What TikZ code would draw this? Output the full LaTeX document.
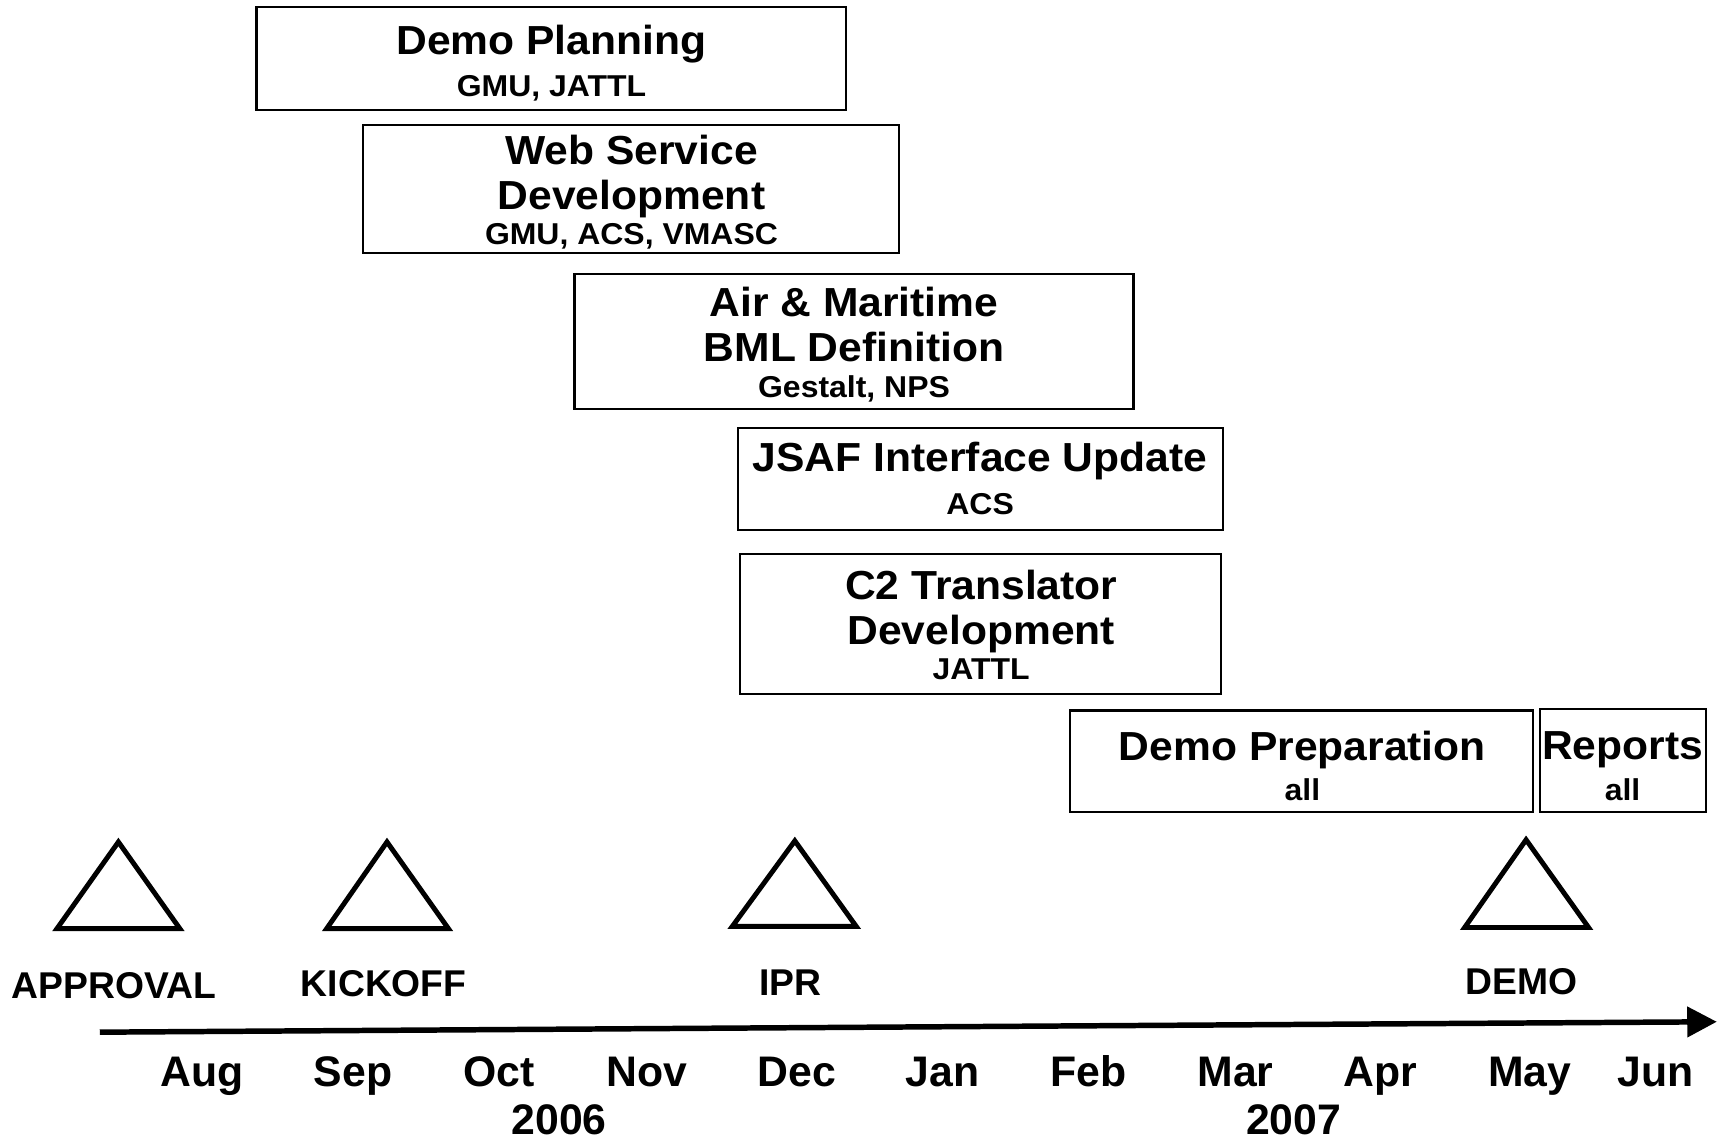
\documentclass[tikz,border=0pt]{standalone}
\usepackage{fontspec}
\setmainfont{Liberation Sans}
\usetikzlibrary{arrows.meta}
\tikzset{
  box/.style={draw, line width=2pt, rectangle, inner sep=0pt},
  big/.style={font=\fontsize{37}{40}\selectfont\bfseries, inner sep=0pt, anchor=base, xscale=1.05},
  small/.style={font=\fontsize{27.5}{30}\selectfont\bfseries, inner sep=0pt, anchor=base, xscale=1.06},
  mile/.style={font=\fontsize{34}{36}\selectfont\bfseries, inner sep=0pt, anchor=base},
  month/.style={font=\fontsize{39}{42}\selectfont\bfseries, inner sep=0pt, anchor=base},
  tri/.style={draw, line width=4.5pt, line join=miter},
  axis/.style={line width=5pt, -{Triangle[length=27pt,width=27pt]}},
}
\begin{document}
\begin{tikzpicture}[x=1pt,y=-1pt]
\useasboundingbox (0,0) rectangle (1568,1041);
\fill[white] (0,0) rectangle (1568,1041);

% task boxes
\node[box, minimum width=538pt, minimum height=94pt] (b1) at (503,53.5) {};
\node[big] (b1t) at (503,50) {Demo Planning};
\node[small] (b1s) at (503,88) {GMU, JATTL};

\node[box, minimum width=489pt, minimum height=117pt] (b2) at (575.5,172.5) {};
\node[big] (b2t) at (576,150) {Web Service};
\node[big] (b2u) at (576,191) {Development};
\node[small] (b2s) at (576,223) {GMU, ACS, VMASC};

\node[box, minimum width=510pt, minimum height=123pt] (b3) at (779,311.5) {};
\node[big] (b3t) at (779,289) {Air \& Maritime};
\node[big] (b3u) at (779,330) {BML Definition};
\node[small] (b3s) at (779,363) {Gestalt, NPS};

\node[box, minimum width=442pt, minimum height=93pt] (b4) at (894.5,437) {};
\node[big] (b4t) at (894,430) {JSAF Interface Update};
\node[small] (b4s) at (894,469) {ACS};

\node[box, minimum width=439pt, minimum height=128pt] (b5) at (894.5,569) {};
\node[big] (b5t) at (895,547) {C2 Translator};
\node[big] (b5u) at (895,588) {Development};
\node[small] (b5s) at (895,620) {JATTL};

\node[box, minimum width=422pt, minimum height=93pt] (b6) at (1187,694.5) {};
\node[big] (b6t) at (1188,694) {Demo Preparation};
\node[small] (b6s) at (1188,730) {all};

\node[box, minimum width=151pt, minimum height=94pt] (b7) at (1480.5,694) {};
\node[big] (b7t) at (1480,693) {Reports};
\node[small] (b7s) at (1480,730) {all};

% milestones
\draw[tri] (108,768) -- (164,847) -- (52,847) -- cycle;
\draw[tri] (353,768) -- (409,847) -- (298,847) -- cycle;
\draw[tri] (725,767) -- (781,845) -- (668,845) -- cycle;
\draw[tri] (1392,766) -- (1449,846) -- (1336,846) -- cycle;

\node[mile] (m1) at (104,910.5) {APPROVAL};
\node[mile] (m2) at (350,909) {KICKOFF};
\node[mile] (m3) at (721,908) {IPR};
\node[mile] (m4) at (1388,907.5) {DEMO};

% timeline
\coordinate (tl0) at (91,941.5);
\coordinate (tl1) at (1566,932);
\draw[axis] (tl0) -- (tl1);

\node[month] (aug) at (184,991) {Aug};
\node[month] (sep) at (322,991) {Sep};
\node[month] (oct) at (455,991) {Oct};
\node[month] (nov) at (590,991) {Nov};
\node[month] (dec) at (727,991) {Dec};
\node[month] (jan) at (860,991) {Jan};
\node[month] (feb) at (993,991) {Feb};
\node[month] (mar) at (1127,991) {Mar};
\node[month] (apr) at (1259.5,991) {Apr};
\node[month] (may) at (1395.5,991) {May};
\node[month] (jun) at (1510,991) {Jun};

\node[month] (y06) at (510,1035) {2006};
\node[month] (y07) at (1180,1035) {2007};
\end{tikzpicture}
\end{document}
